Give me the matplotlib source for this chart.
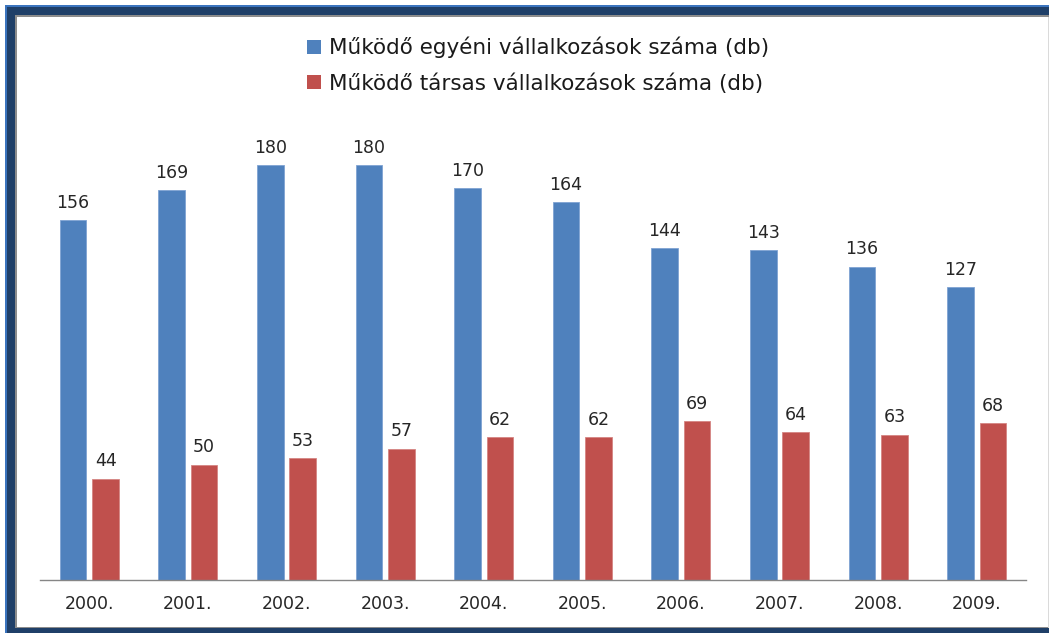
import matplotlib
matplotlib.use('Agg')
import matplotlib.pyplot as plt
from matplotlib.patches import Rectangle, Patch
import numpy as np

plt.rcParams['font.family'] = ['DejaVu Sans']

years = ['2000.', '2001.', '2002.', '2003.', '2004.', '2005.', '2006.', '2007.', '2008.', '2009.']
egyeni = [156, 169, 180, 180, 170, 164, 144, 143, 136, 127]
tarsas = [44, 50, 53, 57, 62, 62, 69, 64, 63, 68]
labels = ['Működő egyéni vállalkozások száma (db)', 'Működő társas vállalkozások száma (db)']

BLUE = '#4F81BD'
RED = '#C0504D'
W, H = 1049, 633

fig = plt.figure(figsize=(W / 100, H / 100), dpi=100)
fig.patch.set_facecolor('white')

# frame (dark blue border like the original screenshot)
def px(x0, y0, x1, y1, **kw):
    # pixel box given from top-left
    fig.patches.append(Rectangle((x0 / W, 1 - y1 / H), (x1 - x0) / W, (y1 - y0) / H,
                                 transform=fig.transFigure, figure=fig, zorder=-10, **kw))

px(5, 5, W + 2, H + 2, facecolor='#3B74BE', edgecolor='none')
px(7, 7, W + 2, H + 2, facecolor='#1F3F68', edgecolor='none')
px(15, 15, W + 2, 628, facecolor='#8C8C8C', edgecolor='none')
px(17, 17, W - 1, 627, facecolor='white', edgecolor='none')
px(W - 1, 17, W + 2, 628, facecolor='#DADADA', edgecolor='none')

ax = fig.add_axes([40 / W, 53 / H, (1026 - 40) / W, 461 / H])
ax.patch.set_alpha(0)

x = np.arange(len(years))
bw = 0.27
off = 0.165
b1 = ax.bar(x - off, egyeni, bw, color=BLUE, edgecolor='#7FA3D3', linewidth=0.6, label=labels[0])
b2 = ax.bar(x + off, tarsas, bw, color=RED, edgecolor='#D58583', linewidth=0.6, label=labels[1])

for bars in (b1, b2):
    for b in bars:
        ax.annotate(f'{int(b.get_height())}', (b.get_x() + b.get_width() / 2, b.get_height()),
                    xytext=(0, 6), textcoords='offset points', ha='center', va='bottom',
                    fontsize=12.5, color='#262626')

ax.set_xlim(-0.5, len(years) - 0.5)
ax.set_ylim(0, 200)
ax.set_xticks(x)
ax.set_xticklabels(years, fontsize=12.5, color='#262626')
ax.tick_params(axis='x', length=0, pad=11)
ax.set_yticks([])
for s in ['top', 'right', 'left']:
    ax.spines[s].set_visible(False)
ax.spines['bottom'].set_color('#868686')
ax.spines['bottom'].set_linewidth(1)

handles = [Patch(facecolor=BLUE, edgecolor='none'), Patch(facecolor=RED, edgecolor='none')]
fig.legend(handles, labels, loc='upper center', bbox_to_anchor=(538 / W, 1 - 26 / H),
           frameon=False, fontsize=15.5, handlelength=0.65, handleheight=0.65,
           handletextpad=0.4, labelspacing=0.7, borderpad=0, labelcolor='#1a1a1a')

fig.savefig('out.png', dpi=100)
plt.close()
